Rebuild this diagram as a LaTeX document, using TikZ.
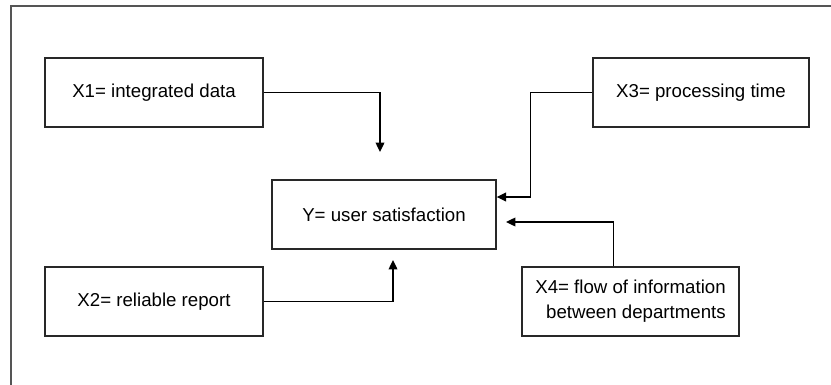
\documentclass[tikz,border=0pt]{standalone}
\usepackage{fontspec}
\setmainfont{Liberation Sans}
\usetikzlibrary{arrows.meta}
\definecolor{framegray}{RGB}{85,85,85}
\definecolor{linegray}{RGB}{40,40,40}

\begin{document}
\begin{tikzpicture}[x=0.75pt,y=-0.75pt,
	box/.style={draw=linegray, line width=1pt, rectangle, minimum height=51.75pt, inner sep=0pt, font=\fontsize{14}{19}\selectfont},
	arr/.style={draw=black, line width=1pt, -{Triangle[length=7pt,width=6.5pt]}}]
						\useasboundingbox (0,0) rectangle (831,385);
						\draw[framegray, line width=1.2pt] (11,390) -- (11,6) -- (840,6);
						
						\node[box, minimum width=163.5pt] (X1) at (154,92.5) {X1= integrated data};
						\node[box, minimum width=163.5pt] (X2) at (154,301.5) {X2= reliable report};
						\node[box, minimum width=162pt] (X3) at (701,92.5) {X3= processing time};
						\node[box, minimum width=162.75pt, align=right] (X4) at (630.5,301.5) {X4= flow of information\\between departments};
						\node[box, minimum width=168pt] (Y) at (384,214.5) {Y= user satisfaction};
						
						\coordinate (t1) at (380,152);
						\coordinate (t2) at (393,260);
						\coordinate (t3) at (Y.east |- 0,197);
						\coordinate (t4) at (506,222);
						
						\draw[arr] (X1.east) -| (t1);
						\draw[arr] (X2.east) -| (t2);
						\draw[arr] (X3.west) -- ++(-62,0) |- (t3);
						\draw[arr] ([xshift=-13pt]X4.north) |- (t4);
					\end{tikzpicture}
\end{document}
